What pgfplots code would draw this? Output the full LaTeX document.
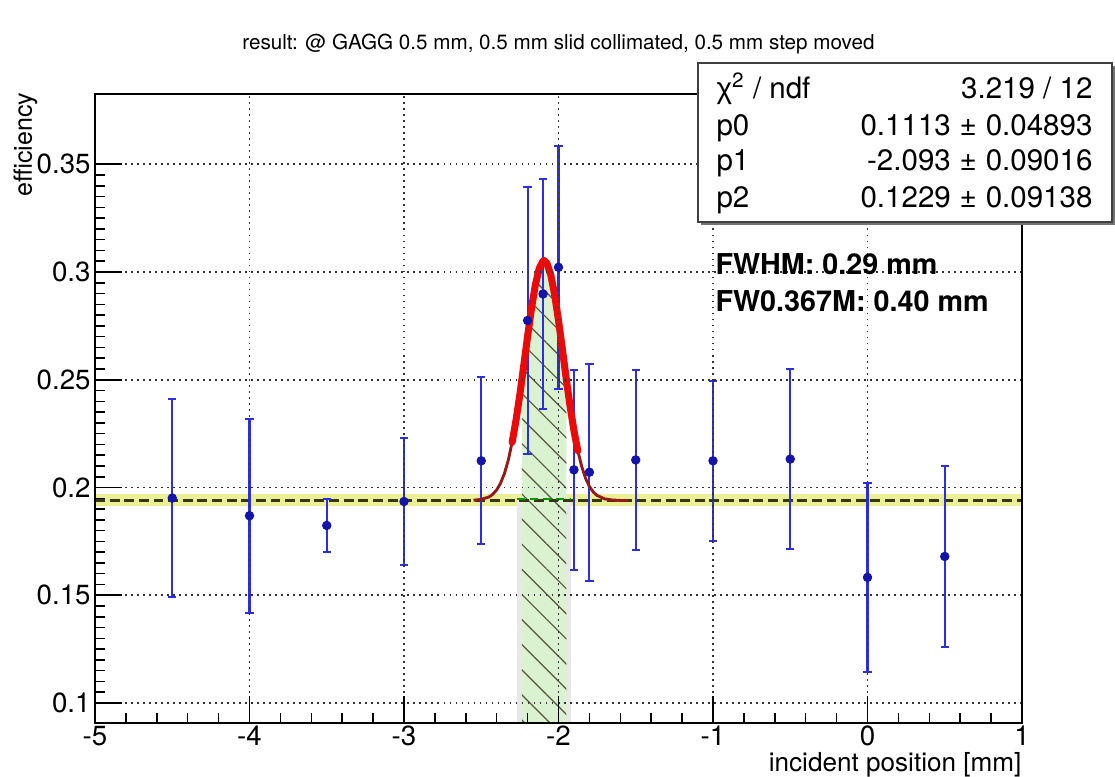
\documentclass[border=0pt]{standalone}
\usepackage{fontspec}
\setmainfont{TeX Gyre Heros}
\newfontfamily\grk{Liberation Sans}
\usepackage{pgfplots}
\pgfplotsset{compat=1.18}
\usetikzlibrary{patterns.meta}

\definecolor{errblue}{RGB}{45,45,225}
\definecolor{mkblue}{RGB}{20,20,170}
\definecolor{fitred}{RGB}{235,10,10}
\definecolor{tailred}{RGB}{150,25,25}
\definecolor{bandyel}{RGB}{235,240,150}
\definecolor{baseolive}{RGB}{55,55,15}
\definecolor{fwgreen}{RGB}{218,242,208}
\definecolor{hatchc}{RGB}{85,85,60}

\begin{document}
\begin{tikzpicture}
\useasboundingbox (-1.278,-0.713) rectangle (13.722,9.727);
\begin{axis}[
    width=12.471cm, height=8.462cm, scale only axis,
    xmin=-5, xmax=1, ymin=0.0907, ymax=0.3826,
    xtick={-5,-4,-3,-2,-1,0,1},
    ytick={0.1,0.15,0.2,0.25,0.3,0.35},
    minor x tick num=4, minor y tick num=9,
    tick pos=left, tick align=inside,
    major tick length=0.36cm, minor tick length=0.135cm,
    every tick/.append style={black, line width=0.6pt},
    axis line style={line width=0.9pt},
    grid=major,
    major grid style={black!80, line width=0.6pt, dash pattern=on 0.7pt off 1.6pt},
    axis on top,
    clip=false,
    /pgf/number format/assume math mode=true,
    ticklabel style={font=\fontsize{10.6}{12}\selectfont},
    yticklabel style={/pgf/number format/fixed, /pgf/number format/precision=2, inner sep=0pt, xshift=-1.5pt},
    xticklabel style={inner sep=0pt, yshift=-1pt},
]
% baseline band
\addplot[draw=none, fill=bandyel] coordinates {(-5,0.1912) (1,0.1912) (1,0.1968) (-5,0.1968)} -- cycle;
% FW0.367M strip
\addplot[draw=none, fill=black!9] coordinates {(-2.267,0.0907) (-1.919,0.0907) (-1.919,0.194) (-2.267,0.194)} -- cycle;
% FWHM area under the fit
\addplot[draw=none, fill=fwgreen] coordinates {
 (-2.2377,0.0907) (-2.2377,0.2497) (-2.225,0.2565) (-2.2,0.2702) (-2.175,0.2831)
 (-2.15,0.2940) (-2.125,0.3016) (-2.1,0.3051) (-2.093,0.3053) (-2.075,0.3041)
 (-2.05,0.2987) (-2.025,0.2895) (-2.0,0.2776) (-1.975,0.2642) (-1.9483,0.2497) (-1.9483,0.0907)} -- cycle;
\addplot[draw=none, pattern={Lines[angle=-45,distance=6.8pt,line width=0.45pt]}, pattern color=hatchc] coordinates {
 (-2.2377,0.0907) (-2.2377,0.2497) (-2.225,0.2565) (-2.2,0.2702) (-2.175,0.2831)
 (-2.15,0.2940) (-2.125,0.3016) (-2.1,0.3051) (-2.093,0.3053) (-2.075,0.3041)
 (-2.05,0.2987) (-2.025,0.2895) (-2.0,0.2776) (-1.975,0.2642) (-1.9483,0.2497) (-1.9483,0.0907)} -- cycle;
% constant level
\addplot[baseolive, line width=1.1pt, dash pattern=on 3.8pt off 1.8pt] coordinates {(-5,0.194) (1,0.194)};
\addplot[green!60!black, line width=0.7pt, dash pattern=on 3pt off 2pt] coordinates {(-2.267,0.1947) (-1.919,0.1947)};
% measured efficiency
\addplot[only marks, mark=*, mark size=1.6pt, mark options={fill=mkblue, draw=mkblue},
    error bars/.cd, y dir=both, y explicit,
    error bar style={errblue, line width=0.8pt},
    error mark options={errblue, line width=0.8pt, mark size=1.6pt, rotate=90}]
coordinates {
 (-4.5,0.1951) +- (0,0.0460)
 (-4.0,0.1869) +- (0,0.0451)
 (-3.5,0.1824) +- (0,0.0122)
 (-3.0,0.1935) +- (0,0.0294)
 (-2.5,0.2124) +- (0,0.0388)
 (-2.2,0.2775) +- (0,0.0620)
 (-2.1,0.2898) +- (0,0.0534)
 (-2.0,0.3022) +- (0,0.0563)
 (-1.9,0.2082) +- (0,0.0464)
 (-1.8,0.2071) +- (0,0.0503)
 (-1.5,0.2128) +- (0,0.0418)
 (-1.0,0.2124) +- (0,0.0372)
 (-0.5,0.2132) +- (0,0.0418)
 (0.0,0.1583) +- (0,0.0440)
 (0.5,0.1680) +- (0,0.0421)
};
% gaussian fit
\addplot[tailred, line width=1.1pt, line join=round] coordinates {
 (-2.55,0.1941) (-2.5,0.1945) (-2.45,0.1956) (-2.425,0.1969) (-2.4,0.1989)
 (-2.375,0.2020) (-2.35,0.2065) (-2.325,0.2127) (-2.3,0.2210) (-2.275,0.2312)
 (-2.25,0.2432) (-2.225,0.2565) (-2.2,0.2702) (-2.175,0.2831) (-2.15,0.2940)
 (-2.125,0.3016) (-2.1,0.3051) (-2.093,0.3053) (-2.075,0.3041) (-2.05,0.2987)
 (-2.025,0.2895) (-2.0,0.2776) (-1.975,0.2642) (-1.95,0.2506) (-1.925,0.2377)
 (-1.9,0.2264) (-1.875,0.2171) (-1.85,0.2098) (-1.825,0.2043) (-1.8,0.2005)
 (-1.775,0.1979) (-1.75,0.1963) (-1.7,0.1947) (-1.65,0.1942) (-1.6,0.1940) (-1.55,0.1940)
};
\addplot[fitred, line width=2.7pt, line join=round, line cap=round] coordinates {
 (-2.3,0.2210) (-2.275,0.2312) (-2.25,0.2432) (-2.225,0.2565) (-2.2,0.2702)
 (-2.175,0.2831) (-2.15,0.2940) (-2.125,0.3016) (-2.1,0.3051) (-2.093,0.3053)
 (-2.075,0.3041) (-2.05,0.2987) (-2.025,0.2895) (-2.0,0.2776) (-1.975,0.2642)
 (-1.95,0.2506) (-1.925,0.2377) (-1.9,0.2264) (-1.875,0.2171)
};
\end{axis}
% title and axis titles
\node[anchor=base, font=\fontsize{7.9}{9}\selectfont] at (6.235,9.067)
  {result: @ GAGG 0.5 mm, 0.5 mm slid collimated, 0.5 mm step moved};
\node[anchor=north east, inner sep=0pt, font=\fontsize{10}{12}\selectfont] at (12.471,-0.385)
  {incident position [mm]};
\node[rotate=90, anchor=south east, inner sep=0pt, font=\fontsize{9.6}{11}\selectfont] at (-0.767,8.49)
  {efficiency};
% fit statistics box
\fill[black!55] (8.152,6.700) rectangle (13.722,8.839);
\filldraw[fill=white, draw=black!75, line width=0.6pt] (8.112,6.740) rectangle (13.682,8.879);
\begin{scope}[every node/.style={inner sep=0pt, font=\fontsize{11.3}{13}\selectfont}]
\node[anchor=base west] at (8.354,8.408) {{\grk χ}\textsuperscript{2} / ndf};
\node[anchor=base east] at (13.426,8.408) {3.219 / 12};
\node[anchor=base west] at (8.354,7.910) {p0};
\node[anchor=base east] at (13.426,7.910) {0.1113\hspace{0.3em}±\hspace{0.3em}0.04893};
\node[anchor=base west] at (8.354,7.440) {p1};
\node[anchor=base east] at (13.426,7.440) {-2.093\hspace{0.3em}±\hspace{0.3em}0.09016};
\node[anchor=base west] at (8.354,6.942) {p2};
\node[anchor=base east] at (13.426,6.942) {0.1229\hspace{0.3em}±\hspace{0.3em}0.09138};
\end{scope}
\node[anchor=base west, inner sep=0pt, font=\bfseries\fontsize{11}{13}\selectfont] at (8.341,6.040) {FWHM: 0.29 mm};
\node[anchor=base west, inner sep=0pt, font=\bfseries\fontsize{11}{13}\selectfont] at (8.341,5.543) {FW0.367M: 0.40 mm};
\end{tikzpicture}
\end{document}
